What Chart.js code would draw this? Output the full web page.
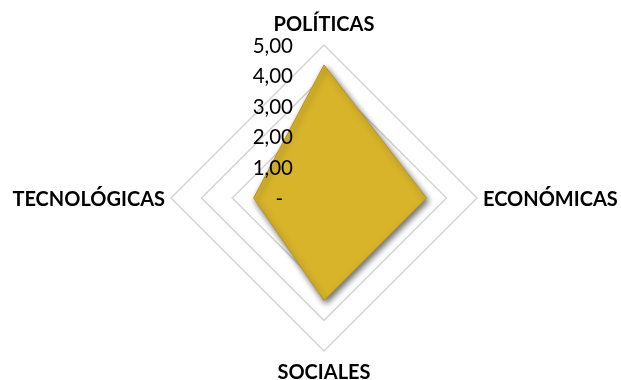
<!DOCTYPE html>
<html>
<head>
<meta charset="utf-8">
<script src="https://cdn.jsdelivr.net/npm/chart.js@4/dist/chart.umd.min.js"></script>
<style>
  html, body { margin: 0; padding: 0; background: #ffffff; }
  #wrap { width: 621px; height: 380px; position: relative; }
</style>
</head>
<body>
<div id="wrap"><canvas id="c"></canvas></div>
<script>
const categories = ['POLÍTICAS', 'ECONÓMICAS', 'SOCIALES', 'TECNOLÓGICAS'];
const seriesValues = [4.35, 3.35, 3.35, 2.3];
const tickValues = [0, 1, 2, 3, 4, 5];
const tickLabels = ['-', '1,00', '2,00', '3,00', '4,00', '5,00'];

const shadowPlugin = {
  id: 'shadowPlugin',
  beforeDatasetsDraw(chart) {
    const ctx = chart.ctx;
    ctx.save();
    ctx.shadowColor = 'rgba(0,0,0,0.6)';
    ctx.shadowBlur = 6;
    ctx.shadowOffsetX = 2;
    ctx.shadowOffsetY = 3;
  },
  afterDatasetsDraw(chart) {
    const ctx = chart.ctx;
    ctx.restore();
    const scale = chart.scales.r;
    const xc = scale.xCenter, yc = scale.yCenter, R = scale.drawingArea;

    // radial tick labels
    ctx.save();
    ctx.fillStyle = '#000000';
    ctx.font = '20.5px Lato';
    ctx.textAlign = 'right';
    ctx.textBaseline = 'middle';
    tickValues.forEach((v, i) => {
      const d = scale.getDistanceFromCenterForValue(v);
      const txt = tickLabels[i];
      const xoff = txt === '-' ? 41 : 31;
      ctx.fillText(txt, xc - xoff, yc - d + 1);
    });
    ctx.restore();

    // category labels
    ctx.save();
    ctx.fillStyle = '#000000';
    ctx.font = 'bold 20px Lato';
    ctx.textBaseline = 'alphabetic';
    const pads = [14, 6, 28, 6];
    categories.forEach((lab, i) => {
      const p = scale.getPointPosition(i, R + pads[i]);
      if (i === 0 || i === 2) { ctx.textAlign = 'center'; ctx.fillText(lab, p.x, p.y); }
      else if (i === 1) { ctx.textAlign = 'left'; ctx.fillText(lab, p.x, p.y + 8); }
      else { ctx.textAlign = 'right'; ctx.fillText(lab, p.x, p.y + 8); }
    });
    ctx.restore();
  }
};

new Chart(document.getElementById('c'), {
  type: 'radar',
  data: {
    labels: categories,
    datasets: [{
      data: seriesValues,
      fill: true,
      backgroundColor: '#D8B42B',
      borderColor: '#B9961F',
      borderWidth: 1,
      pointRadius: 0,
      pointHoverRadius: 0
    }]
  },
  options: {
    responsive: true,
    maintainAspectRatio: false,
    animation: false,
    layout: { padding: { left: 27, right: 0, top: 45, bottom: 29 } },
    plugins: { legend: { display: false }, tooltip: { enabled: false } },
    scales: {
      r: {
        min: 0,
        max: 5,
        ticks: { display: false, stepSize: 1 },
        pointLabels: { display: false },
        angleLines: { display: false },
        grid: { color: '#d4d4d4', lineWidth: 1.5 }
      }
    }
  },
  plugins: [shadowPlugin]
});
</script>
</body>
</html>
